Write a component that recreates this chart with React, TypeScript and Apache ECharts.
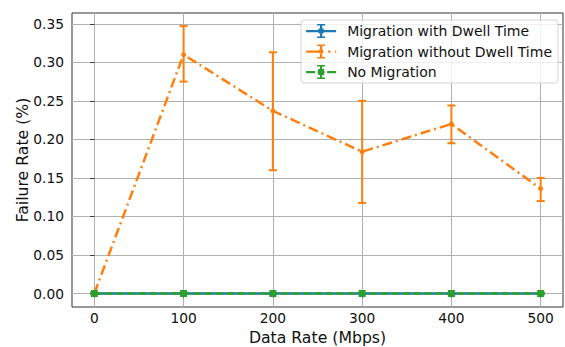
import React, { useEffect, useRef } from "react";
import * as echarts from "echarts";

const dataRates = [0, 100, 200, 300, 400, 500];
const withDwellMean = [0, 0, 0, 0, 0, 0];
const withDwellLow = [0, 0, 0, 0, 0, 0];
const withDwellHigh = [0, 0, 0, 0, 0, 0];
const withoutDwellMean = [0, 0.31, 0.237, 0.184, 0.22, 0.136];
const withoutDwellLow = [0, 0.275, 0.16, 0.1175, 0.195, 0.12];
const withoutDwellHigh = [0, 0.347, 0.313, 0.25, 0.244, 0.15];
const noMigMean = [0, 0, 0, 0, 0, 0];
const noMigLow = [0, 0, 0, 0, 0, 0];
const noMigHigh = [0, 0, 0, 0, 0, 0];
const xTicks = [0, 100, 200, 300, 400, 500];
const yTicks = [0, 0.05, 0.1, 0.15, 0.2, 0.25, 0.3, 0.35];

const names = ["Migration with Dwell Time", "Migration without Dwell Time", "No Migration"];
const colors = ["#1f77b4", "#ff7f0e", "#2ca02c"];

const iconBlue =
  "path://M0 6 H30 V8.2 H0 Z M13.9 0 H16.1 V14 H13.9 Z M11 0 H19 V1.6 H11 Z M11 12.4 H19 V14 H11 Z M12 7 A3 3 0 1 1 18 7 A3 3 0 1 1 12 7 Z";
const iconOrange =
  "path://M0 6 H13 V8.2 H0 Z M13.9 0 H16.1 V14 H13.9 Z M11 0 H19 V1.6 H11 Z M11 12.4 H19 V14 H11 Z M12.6 7 A2.4 2.4 0 1 1 17.4 7 A2.4 2.4 0 1 1 12.6 7 Z M22 6 H24.4 V8.2 H22 Z M29 6 H30 V8.2 H29 Z";
const iconGreen =
  "path://M0 6 H9 V8.2 H0 Z M11.5 6 H18.5 V8.2 H11.5 Z M21 6 H30 V8.2 H21 Z M13.9 0 H16.1 V14 H13.9 Z M11 0 H19 V1.6 H11 Z M11 12.4 H19 V14 H11 Z M12 4 H18 V10 H12 Z";

function errData(low: number[], high: number[]) {
  return dataRates.map((x, i) => [x, low[i], high[i]]);
}

function errSeries(name: string, color: string, low: number[], high: number[]) {
  return {
    type: "custom",
    name,
    silent: true,
    z: 2,
    data: errData(low, high),
    renderItem: (params: any, api: any) => {
      const x = api.value(0);
      const p1 = api.coord([x, api.value(1)]);
      const p2 = api.coord([x, api.value(2)]);
      const st = { stroke: color, lineWidth: 2 };
      return {
        type: "group",
        children: [
          { type: "line", shape: { x1: p1[0], y1: p1[1], x2: p2[0], y2: p2[1] }, style: st },
          { type: "line", shape: { x1: p1[0] - 4, y1: p1[1], x2: p1[0] + 4, y2: p1[1] }, style: st },
          { type: "line", shape: { x1: p2[0] - 4, y1: p2[1], x2: p2[0] + 4, y2: p2[1] }, style: st },
        ],
      };
    },
  };
}

export default function App() {
  const ref = useRef<HTMLDivElement>(null);
  useEffect(() => {
    if (!ref.current) return;
    const chart = echarts.init(ref.current, null, { renderer: "svg" });
    const font = "DejaVu Sans";
    chart.setOption({
      animation: false,
      textStyle: { fontFamily: font },
      grid: {
        left: 72,
        right: 2,
        top: 13,
        bottom: 40,
        show: true,
        containLabel: false,
        outerBoundsMode: "none",
        borderColor: "#333",
        borderWidth: 1,
        backgroundColor: "transparent",
      },
      legend: {
        orient: "vertical",
        right: 7,
        top: 20,
        itemWidth: 30,
        itemHeight: 14,
        itemGap: 6.5,
        padding: [4, 6, 4, 5],
        borderColor: "#d5d5d5",
        borderWidth: 1,
        borderRadius: 3,
        backgroundColor: "rgba(255,255,255,0.8)",
        textStyle: { fontFamily: font, fontSize: 14, color: "#111", padding: [0, 0, 0, 6] },
        data: [
          { name: names[0], icon: iconBlue, itemStyle: { color: colors[0] } },
          { name: names[1], icon: iconOrange, itemStyle: { color: colors[1] } },
          { name: names[2], icon: iconGreen, itemStyle: { color: colors[2] } },
        ],
      },
      xAxis: {
        type: "value",
        min: -25,
        max: 525,
        name: "Data Rate (Mbps)",
        nameLocation: "middle",
        nameGap: 22,
        nameMoveOverlap: false,
        nameTextStyle: { fontFamily: font, fontSize: 15.7, color: "#111" },
        axisLine: { show: false },
        axisTick: { show: true, length: 4, lineStyle: { color: "#333" }, customValues: xTicks },
        axisLabel: { fontFamily: font, fontSize: 13.8, color: "#111", margin: 4, customValues: xTicks },
        splitLine: { show: true, lineStyle: { color: "#b0b0b0", width: 1 } },
      },
      yAxis: {
        type: "value",
        min: -0.0175,
        max: 0.364,
        name: "Failure Rate (%)",
        nameLocation: "middle",
        nameGap: 42,
        nameMoveOverlap: false,
        nameTextStyle: { fontFamily: font, fontSize: 15.7, color: "#111" },
        axisLine: { show: false },
        axisTick: { show: true, length: 4, lineStyle: { color: "#333" }, customValues: yTicks },
        axisLabel: {
          fontFamily: font,
          fontSize: 13.8,
          color: "#111",
          margin: 8,
          customValues: yTicks,
          formatter: (v: number) => v.toFixed(2),
        },
        splitLine: { show: true, lineStyle: { color: "#b0b0b0", width: 1 } },
      },
      series: [
        errSeries(names[0], colors[0], withDwellLow, withDwellHigh),
        {
          type: "line",
          name: names[0],
          data: dataRates.map((x, i) => [x, withDwellMean[i]]),
          color: colors[0],
          lineStyle: { width: 2.5, type: "solid" },
          symbol: "circle",
          symbolSize: 6,
          z: 3,
        },
        errSeries(names[1], colors[1], withoutDwellLow, withoutDwellHigh),
        {
          type: "line",
          name: names[1],
          data: dataRates.map((x, i) => [x, withoutDwellMean[i]]),
          color: colors[1],
          lineStyle: { width: 2.5, type: [10, 4, 2, 4] },
          symbol: "circle",
          symbolSize: 5,
          z: 4,
        },
        errSeries(names[2], colors[2], noMigLow, noMigHigh),
        {
          type: "line",
          name: names[2],
          data: dataRates.map((x, i) => [x, noMigMean[i]]),
          color: colors[2],
          lineStyle: { width: 2.5, type: [8, 3] },
          symbol: "rect",
          symbolSize: 7,
          z: 5,
        },
      ],
    });
    return () => chart.dispose();
  }, []);
  return <div ref={ref} style={{ width: 565, height: 347, position: "absolute", left: 0, top: 0 }} />;
}
